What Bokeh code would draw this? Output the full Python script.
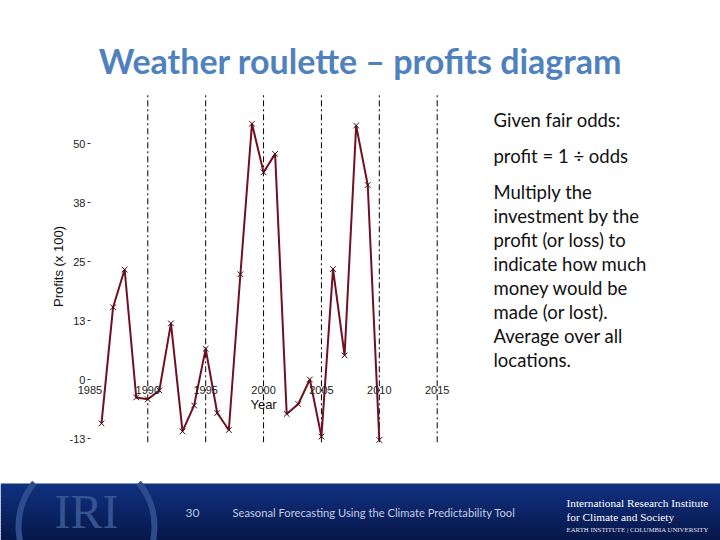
import math
from bokeh.plotting import figure
from bokeh.models import LinearAxis, FixedTicker, Label, BoxAnnotation
from bokeh.embed import file_html
from bokeh.resources import INLINE

# ---- data ----
years = list(range(1986, 2011))
profits = [-9.3, 15.3, 23.3, -3.8, -4.2, -2.3, 11.9, -11.0, -5.5, 6.5,
           -7.1, -10.7, 22.3, 54.2, 43.9, 47.8, -7.3, -5.2, 0.0, -12.1,
           23.4, 5.1, 53.8, 41.2, -12.8]
x_ticks = [1985, 1990, 1995, 2000, 2005, 2010, 2015]
dash_years = [1990, 1995, 2000, 2005, 2010, 2015]
y_ticks = [50, 37.5, 25, 12.5, 0, -12.5]
y_tick_labels = ["50", "38", "25", "13", "0", "-13"]

title_text = "Weather roulette \u2013 profits diagram"
side_lines = [
    ("Given fair odds:", 119),
    ("profit = 1 \u00f7 odds", 155),
    ("Multiply the", 191),
    ("investment by the", 215),
    ("profit (or loss) to", 239),
    ("indicate how much", 263),
    ("money would be", 287),
    ("made (or lost).", 311),
    ("Average over all", 335),
    ("locations.", 359),
]

W, H = 720, 540
X0, X1 = 1977.276, 2039.474
Y0, Y1 = -34.11, 80.30
DASH_LOW, DASH_HIGH = -13.3, 60.6

p = figure(width=W, height=H, x_range=(X0, X1), y_range=(Y0, Y1),
           x_axis_type=None, y_axis_type=None, toolbar_location=None,
           output_backend="svg", min_border=0, min_border_left=0, min_border_right=0,
           min_border_top=0, min_border_bottom=0)
p.outline_line_color = None
p.background_fill_color = "white"
p.border_fill_color = "white"


def sx_to_data(px):
    return X0 + px / W * (X1 - X0)


def sy_to_data(py):
    return Y1 - py / H * (Y1 - Y0)


# footer gradient bar (underlay, below glyphs)
top_c = (16, 48, 128)
bot_c = (6, 24, 74)
fy0 = 483
n = 19
h = (H - fy0) / n
for i in range(n):
    f = i / (n - 1)
    c = tuple(int(round(top_c[k] + (bot_c[k] - top_c[k]) * f)) for k in range(3))
    p.add_layout(BoxAnnotation(left=0, right=W, top=H - (fy0 + i * h),
                               bottom=H - (fy0 + (i + 1) * h) - 0.5,
                               left_units="screen", right_units="screen",
                               top_units="screen", bottom_units="screen",
                               fill_color="#%02x%02x%02x" % c, fill_alpha=1,
                               line_color=None, level="underlay"))

# IRI logo ring arcs
cx, cy = sx_to_data(86), sy_to_data(526)
p.arc(x=[cx, cx], y=[cy, cy], radius=68, radius_units="screen",
      start_angle=[math.radians(140), math.radians(-40)],
      end_angle=[math.radians(220), math.radians(40)],
      line_color="#2c4c8e", line_width=6)

# dashed year guides
p.segment(x0=dash_years, y0=[DASH_LOW] * len(dash_years), x1=dash_years,
          y1=[DASH_HIGH] * len(dash_years), line_color="black", line_width=1,
          line_dash="6 3 2 3")

# profits series
p.line(years, profits, line_color="#701020", line_width=2)
p.scatter(years, profits, marker="x", size=8, line_color="#3a0a12", line_width=1)

# axes at fixed locations (like the R plot)
yaxis = LinearAxis(fixed_location=1985.05, ticker=FixedTicker(ticks=y_ticks),
                   major_label_overrides=dict(zip(y_ticks, y_tick_labels)),
                   axis_line_color=None, major_tick_out=3, major_tick_in=0,
                   major_tick_line_color="#333333",
                   minor_tick_line_color=None, major_label_standoff=2,
                   major_label_text_font="Liberation Sans",
                   major_label_text_font_size="11px",
                   major_label_text_color="#222222")
p.add_layout(yaxis, "left")

xaxis = LinearAxis(fixed_location=0, ticker=FixedTicker(ticks=x_ticks),
                   axis_line_color=None, major_tick_out=0, major_tick_in=0,
                   major_tick_line_color=None, minor_tick_line_color=None,
                   major_label_standoff=6,
                   major_label_text_font="Liberation Sans",
                   major_label_text_font_size="11px",
                   major_label_text_color="#222222")
p.add_layout(xaxis, "below")


def lab(text, x, y_top, size, color, font="Lato", style="normal", align="left",
        baseline="middle", angle=0.0, x_units="screen"):
    p.add_layout(Label(x=x, y=H - y_top, x_units=x_units, y_units="screen",
                       text=text, text_font=font, text_font_size=f"{size}px",
                       text_color=color, text_font_style=style, text_align=align,
                       text_baseline=baseline, angle=angle))


# axis titles
lab("Year", 2000, 404, 13, "#111111", font="Liberation Sans", align="center",
    x_units="data")
lab("Profits (x 100)", 58, 266, 13, "#111111", font="Liberation Sans",
    align="center", angle=math.pi / 2)

# slide title
lab(title_text, 360, 60, 34, "#4F81BD", style="bold", align="center")

# side text
for t, yy in side_lines:
    lab(t, 493, yy, 18.5, "#111111")

# IRI logo letters
lab("IRI", 86, 511, 48, "#34548f", font="Liberation Serif", align="center")

# footer texts
lab("30", 192, 512, 12, "#b8c4dc", align="center")
lab("Seasonal Forecasting Using the Climate Predictability Tool", 232, 512, 11.2,
    "#c4cce0")
lab("International Research Institute", 566, 502, 11.3, "#ffffff",
    font="Liberation Serif")
lab("for Climate and Society", 566, 516, 11.3, "#ffffff", font="Liberation Serif")
lab("EARTH INSTITUTE | COLUMBIA UNIVERSITY", 566, 529, 6.8, "#e0e4ee",
    font="Liberation Serif")

open("out.html", "w").write(file_html(p, INLINE))
